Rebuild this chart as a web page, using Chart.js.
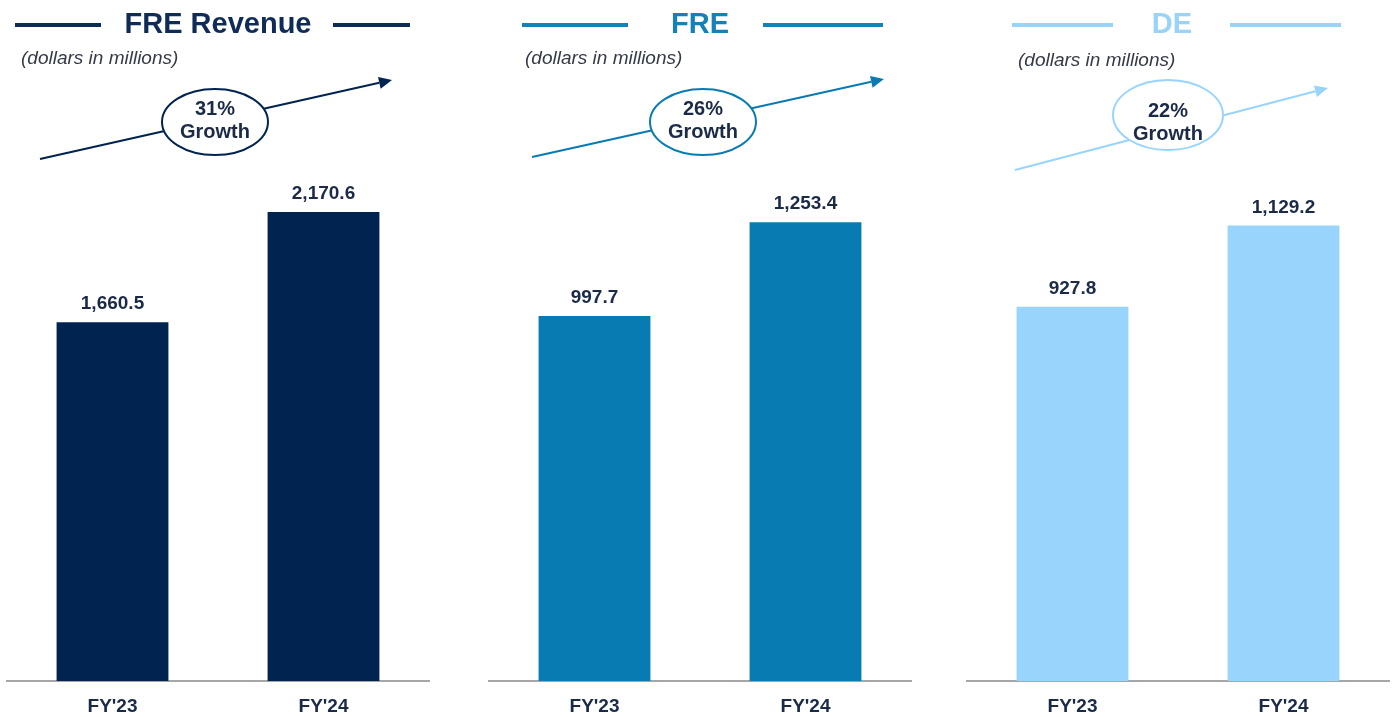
<!DOCTYPE html>
<html>
<head>
<meta charset="utf-8">
<script src="https://cdn.jsdelivr.net/npm/chart.js@4.4.1/dist/chart.umd.min.js"></script>
<style>
  html, body { margin: 0; padding: 0; background: #fff; }
  #wrap { position: relative; width: 1392px; height: 717px; overflow: hidden; }
  .panel { position: absolute; top: 0; width: 464px; height: 717px; }
</style>
</head>
<body>
<div id="wrap">
  <div class="panel" style="left:0"><canvas id="c0"></canvas></div>
  <div class="panel" style="left:464px"><canvas id="c1"></canvas></div>
  <div class="panel" style="left:928px"><canvas id="c2"></canvas></div>
</div>
<script>
// data
const categories = ["FY'23", "FY'24"];
const freRevenue = [1660.5, 2170.6];
const fre = [997.7, 1253.4];
const de = [927.8, 1129.2];
const titles = ['FRE Revenue', 'FRE', 'DE'];
const growth = ['31%', '26%', '22%'];
const subtitle = '(dollars in millions)';

const TEXT = '#1b2a47';
const FONT = '"Liberation Sans", Arial, sans-serif';

// per panel look + header layout (canvas-local px)
const panels = [
  {
    values: freRevenue, color: '#00234f', titleColor: '#0f2b57', yMax: 2319,
    padL: 7, padR: 35,
    titleX: 218, lines: [[15, 101], [333, 410]], subX: 21, subY: 64,
    arrow: [40, 159, 392, 80], ell: [215, 122, 53, 33], gY: [115, 138]
  },
  {
    values: fre, color: '#087bb2', titleColor: '#1681b8', yMax: 1369,
    padL: 25, padR: 17,
    titleX: 236, lines: [[58, 164], [299, 419]], subX: 61, subY: 64,
    arrow: [68, 157, 420, 79], ell: [239, 122, 53, 33], gY: [115, 138]
  },
  {
    values: de, color: '#99d4fc', titleColor: '#99d3f8', yMax: 1242,
    padL: 39, padR: 3,
    titleX: 244, lines: [[84, 185], [302, 413]], subX: 90, subY: 66,
    arrow: [87, 170, 400, 88], ell: [240, 115, 55, 35], gY: [117, 140]
  }
];

function fmt(v) {
  return v.toLocaleString('en-US', { minimumFractionDigits: 1, maximumFractionDigits: 1 });
}

// header: title with rules, subtitle, growth arrow + ellipse
const headerPlugin = {
  id: 'header',
  afterDraw(chart, args, opts) {
    const p = panels[opts.idx];
    const ctx = chart.ctx;
    ctx.save();

    // title + side rules
    ctx.strokeStyle = p.titleColor;
    ctx.lineWidth = 4;
    p.lines.forEach(([a, b]) => {
      ctx.beginPath();
      ctx.moveTo(a, 25);
      ctx.lineTo(b, 25);
      ctx.stroke();
    });
    ctx.fillStyle = p.titleColor;
    ctx.font = 'bold 29px ' + FONT;
    ctx.textAlign = 'center';
    ctx.textBaseline = 'alphabetic';
    ctx.fillText(titles[opts.idx], p.titleX, 33);

    // subtitle
    ctx.fillStyle = '#333a48';
    ctx.font = 'italic 19px ' + FONT;
    ctx.textAlign = 'left';
    ctx.fillText(subtitle, p.subX, p.subY);

    // arrow
    const [x1, y1, x2, y2] = p.arrow;
    ctx.strokeStyle = p.color;
    ctx.fillStyle = p.color;
    ctx.lineWidth = 2;
    const ang = Math.atan2(y2 - y1, x2 - x1);
    const hl = 13;
    ctx.beginPath();
    ctx.moveTo(x1, y1);
    ctx.lineTo(x2 - hl * Math.cos(ang), y2 - hl * Math.sin(ang));
    ctx.stroke();
    ctx.beginPath();
    ctx.moveTo(x2, y2);
    ctx.lineTo(x2 - hl * Math.cos(ang) + 6 * Math.sin(ang), y2 - hl * Math.sin(ang) - 6 * Math.cos(ang));
    ctx.lineTo(x2 - hl * Math.cos(ang) - 6 * Math.sin(ang), y2 - hl * Math.sin(ang) + 6 * Math.cos(ang));
    ctx.closePath();
    ctx.fill();

    // ellipse
    const [ex, ey, rx, ry] = p.ell;
    ctx.beginPath();
    ctx.ellipse(ex, ey, rx, ry, 0, 0, Math.PI * 2);
    ctx.fillStyle = '#fff';
    ctx.fill();
    ctx.lineWidth = 2;
    ctx.stroke();

    ctx.fillStyle = TEXT;
    ctx.font = 'bold 20px ' + FONT;
    ctx.textAlign = 'center';
    ctx.fillText(growth[opts.idx], ex, p.gY[0]);
    ctx.fillText('Growth', ex, p.gY[1]);

    // value labels above bars
    const meta = chart.getDatasetMeta(0);
    ctx.font = 'bold 19px ' + FONT;
    meta.data.forEach((bar, i) => {
      ctx.fillText(fmt(chart.data.datasets[0].data[i]), bar.x, bar.y - 13);
    });

    ctx.restore();
  }
};

panels.forEach((p, idx) => {
  new Chart(document.getElementById('c' + idx), {
    type: 'bar',
    data: {
      labels: categories,
      datasets: [{
        data: p.values,
        backgroundColor: p.color,
        barPercentage: 0.53,
        categoryPercentage: 1
      }]
    },
    options: {
      responsive: true,
      maintainAspectRatio: false,
      animation: false,
      layout: { padding: { top: 180, left: p.padL, right: p.padR, bottom: 0 } },
      plugins: {
        legend: { display: false },
        tooltip: { enabled: false },
        header: { idx }
      },
      scales: {
        x: {
          grid: { display: false, drawTicks: false },
          border: { display: true, color: '#a6a6a6', width: 2 },
          ticks: {
            color: TEXT,
            font: { family: FONT, size: 19, weight: 'bold' },
            padding: 14
          },
          afterFit: s => { s.height = 36; }
        },
        y: {
          display: false,
          min: 0,
          max: p.yMax
        }
      }
    },
    plugins: [headerPlugin]
  });
});
</script>
</body>
</html>
